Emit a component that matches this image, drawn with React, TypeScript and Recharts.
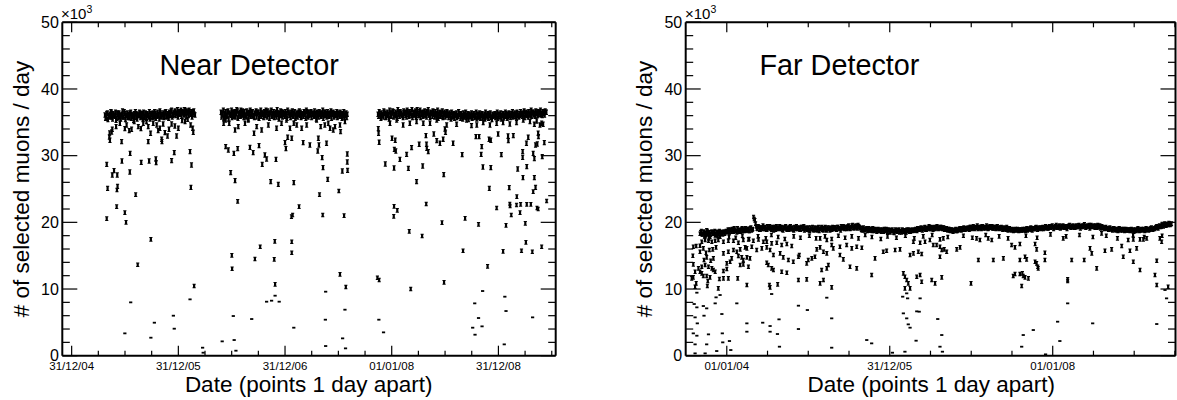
import React from 'react';
import { ScatterChart, Scatter, XAxis, YAxis } from 'recharts';

const FONT = '"Liberation Sans", Arial, Helvetica, sans-serif';

// ---------- Near detector (x = days since 31/12/04, values in 10^3 muons/day) ----------
const nearXDomain: [number, number] = [-32, 1656];
const nearMajorTicks = [0, 365, 730, 1095, 1460];
const nearTickLabels = ['31/12/04', '31/12/05', '31/12/06', '01/01/08', '31/12/08'];
const nearMinorTicks = [91.25, 182.5, 273.75, 456.25, 547.5, 638.75, 821.25, 912.5, 1003.75, 1186.25, 1277.5, 1368.75, 1551.25, 1642.5];

const NEAR_STEP = 4;
const nearBand1Start = 114;
const nearBand1 = [
  36.1, 35.7, 36.4, 35.9, 36.2, 36.6, 35.8, 36.3, 36.0, 36.5, 35.6, 36.2, 36.4, 35.9, 36.1, 36.7, 35.8, 36.3, 36.0, 36.4,
  36.2, 35.7, 36.5, 36.1, 35.9, 36.3, 36.6, 35.8, 36.2, 36.0, 36.4, 35.9, 36.3, 36.5, 35.7, 36.1, 36.3, 36.0, 36.6, 35.9,
  36.2, 36.4, 35.8, 36.3, 36.1, 36.5, 36.0, 36.7, 35.9, 36.2, 36.4, 36.1, 36.6, 35.8, 36.3, 36.5, 36.2, 36.8, 36.0, 36.4,
  36.7, 36.3, 36.9, 36.5, 36.2, 36.8, 36.6, 36.4, 36.9, 36.3, 36.7, 36.5, 36.8, 36.2, 36.6, 36.4, 36.7, 36.1,
];
const nearBand1bStart = 116;
const nearBand1b = [
  35.6, 36.3, 35.4, 36.0, 35.8, 36.5, 35.5, 36.1, 35.9, 35.3, 36.4, 35.7, 36.0, 35.5, 36.2, 35.8, 36.6, 35.4, 36.0, 35.7,
  35.9, 36.4, 35.6, 36.1, 35.3, 35.8, 36.3, 35.5, 36.0, 36.5, 35.7, 36.2, 35.4, 35.9, 36.4, 35.6, 36.1, 35.8, 35.5, 36.3,
  35.7, 36.0, 36.6, 35.6, 35.9, 36.2, 35.5, 36.4, 35.8, 36.1, 35.7, 36.5, 35.9, 36.3, 35.6, 36.0, 36.7, 35.8, 36.2, 36.5,
  36.0, 36.4, 35.8, 36.6, 36.2, 35.9, 36.5, 36.1, 36.8, 35.9, 36.4, 36.0, 36.6, 36.3, 35.8, 36.5, 36.2,
];
const nearBand2Start = 511;
const nearBand2 = [
  36.5, 36.1, 36.8, 36.3, 36.6, 36.0, 36.7, 36.4, 36.2, 36.8, 36.5, 35.9, 36.6, 36.3, 36.7, 36.1, 36.5, 36.8, 36.2, 36.4,
  36.6, 36.0, 36.7, 36.3, 36.5, 36.8, 36.2, 36.6, 35.9, 36.4, 36.7, 36.3, 36.5, 36.1, 36.8, 36.4, 36.2, 36.6, 36.0, 36.5,
  36.7, 36.3, 36.4, 36.8, 36.1, 36.6, 36.3, 36.5, 36.9, 36.2, 36.4, 36.7, 36.0, 36.5, 36.3, 36.6, 36.2, 36.8, 36.4, 36.1,
  36.5, 36.7, 36.3, 36.6, 35.9, 36.4, 36.2, 36.7, 36.5, 36.1, 36.3, 36.6, 36.4, 36.8, 36.0, 36.5, 36.2, 36.6, 36.3, 36.4,
  36.7, 36.1, 36.5, 36.3, 36.6, 36.2, 36.4, 36.8, 36.0, 36.5, 36.3, 36.6, 36.1, 36.4, 36.7, 36.2, 36.5, 36.3, 36.0, 36.6,
  36.4, 36.2, 36.5, 36.1, 36.3, 36.6, 36.0, 36.4, 36.2,
];
const nearBand2bStart = 513;
const nearBand2b = [
  35.8, 36.4, 35.6, 36.1, 35.9, 36.6, 35.5, 36.2, 36.0, 35.7, 36.5, 36.2, 35.8, 36.9, 35.6, 36.3, 35.9, 36.0, 36.7, 35.7,
  36.1, 35.8, 36.4, 35.5, 36.2, 35.9, 36.6, 36.0, 35.7, 36.3, 35.8, 36.5, 35.6, 36.2, 35.9, 36.4, 35.7, 36.0, 36.8, 35.8,
  36.2, 35.6, 36.5, 35.9, 36.3, 35.7, 36.1, 35.8, 36.4, 35.5, 36.0, 36.6, 35.8, 36.2, 35.9, 36.3, 35.6, 36.5, 36.0, 35.7,
  36.2, 35.9, 36.4, 35.6, 36.1, 35.8, 36.5, 36.0, 35.7, 36.3, 35.9, 36.2, 35.6, 36.6, 35.8, 36.0, 36.4, 35.7, 36.2, 35.9,
  36.3, 35.5, 36.1, 35.8, 36.4, 35.9, 36.2, 35.6, 36.5, 36.0, 35.8, 36.3, 35.9, 36.1, 35.6, 36.4, 35.8, 36.0, 36.2, 35.7,
  36.1, 35.9, 36.3, 35.6, 36.0, 35.8, 36.2, 35.7,
];
const nearBand3Start = 1048;
const nearBand3 = [
  36.2, 36.6, 35.9, 36.4, 36.1, 36.7, 36.3, 35.8, 36.5, 36.2, 36.8, 36.0, 36.4, 36.6, 36.1, 36.5, 36.3, 36.9, 36.2, 36.6,
  36.4, 36.0, 36.7, 36.3, 36.5, 36.8, 36.2, 36.6, 36.4, 36.9, 36.1, 36.5, 36.7, 36.3, 36.6, 36.0, 36.8, 36.4, 36.5, 36.2,
  36.7, 36.3, 36.6, 36.9, 36.1, 36.5, 36.4, 36.7, 36.2, 36.6, 36.3, 36.8, 36.0, 36.5, 36.4, 36.7, 36.2, 36.5, 36.3, 36.6,
  36.1, 36.4, 36.2, 36.5, 35.9, 36.3, 36.1, 36.4, 36.0, 36.6, 36.2, 36.3, 35.8, 36.4, 36.1, 36.5, 36.0, 36.3, 36.2, 35.9,
  36.4, 36.1, 36.3, 36.0, 36.5, 35.8, 36.2, 36.4, 36.1, 36.3, 35.9, 36.2, 36.5, 36.0, 36.3, 36.1, 36.4, 35.8, 36.2, 36.0,
  36.3, 36.1, 36.5, 35.9, 36.2, 36.4, 36.0, 36.3, 36.1, 36.5, 35.9, 36.2, 36.4, 36.0, 36.3, 36.6, 36.1, 36.4, 36.2, 36.5,
  36.0, 36.3, 36.6, 36.2, 36.4, 36.7, 36.1, 36.5, 36.3, 36.6, 36.2, 36.8, 36.4, 36.5, 36.3, 36.7, 36.4, 36.6, 36.5, 36.8,
  36.3, 36.6, 36.4, 36.7, 36.5,
];
const nearBand3bStart = 1050;
const nearBand3b = [
  35.9, 36.3, 35.6, 36.1, 35.8, 36.5, 35.7, 36.2, 36.0, 35.5, 36.4, 35.9, 36.7, 35.8, 36.2, 36.0, 35.6, 36.4, 35.9, 36.3,
  36.1, 35.7, 36.5, 36.0, 35.8, 36.6, 35.9, 36.3, 36.0, 35.7, 36.4, 36.1, 35.8, 36.9, 36.0, 36.3, 35.7, 36.2, 35.9, 36.5,
  36.0, 35.8, 36.4, 36.1, 35.7, 36.3, 35.9, 36.6, 35.8, 36.2, 36.0, 35.6, 36.4, 35.9, 36.1, 35.7, 36.3, 35.8, 36.0, 36.2,
  35.7, 36.0, 35.5, 36.2, 35.8, 35.6, 36.1, 35.7, 35.9, 36.3, 35.6, 36.0, 35.5, 35.8, 36.2, 35.7, 35.9, 35.4, 36.1, 35.8,
  35.6, 36.0, 35.7, 35.9, 35.5, 36.2, 35.8, 35.6, 36.0, 35.7, 35.9, 35.5, 36.1, 35.8, 35.6, 36.0, 35.7, 35.4, 35.9, 36.1,
  35.7, 35.9, 35.6, 36.2, 35.8, 35.5, 36.0, 35.7, 35.9, 36.3, 35.6, 35.8, 36.1, 35.7, 36.0, 35.8, 36.2, 35.9, 35.7, 36.1,
  35.8, 36.0, 36.3, 35.9, 36.1, 35.7, 36.4, 36.0, 35.8, 36.2, 36.0, 35.9, 36.5, 36.1, 35.9, 36.3, 36.0, 36.2, 36.4, 36.1,
  36.0, 36.3, 36.1, 36.5,
];

const nearOutliers: [number, number][] = [
  [130, 33.4], [129, 32.8], [131, 32.3], [171, 32.1], [120, 28.7], [145, 27.75], [139, 27.1], [156, 27.1], [123, 25.1],
  [157, 25.4], [155, 24.85], [154, 22.35], [120, 20.55], [182, 21.45], [186, 20.0], [200, 30.35], [172, 29.2], [199, 27.55],
  [219, 24.15], [202, 8.0], [182, 3.35], [226, 13.65], [238, 29.0], [265, 29.2], [288, 29.5], [289, 28.95], [271, 17.45],
  [283, 4.95], [271, 2.7], [262, 32.1], [308, 32.45], [309, 32.1], [328, 32.95], [351, 30.45], [342, 29.25], [359, 32.95],
  [348, 6.0], [351, 4.05], [405, 30.6], [410, 28.6], [408, 25.25], [419, 10.45], [405, 8.45], [416, 33.5], [448, 1.2], [450, 0.45],
  [137, 33.55], [139, 33.95], [152, 34.35], [165, 34.85], [182, 34.05], [188, 34.6], [197, 33.75], [205, 33.95], [214, 35.1],
  [228, 34.35], [237, 34.05], [245, 34.85], [256, 35.1], [262, 34.35], [270, 33.35], [279, 34.85], [291, 34.6], [296, 33.75],
  [302, 34.1], [313, 34.75], [319, 33.45], [333, 33.95], [342, 34.75], [353, 34.45], [365, 34.1], [378, 35.25], [388, 35.1],
  [397, 35.45], [407, 34.6], [414, 34.1],
  [527, 31.35], [536, 30.85], [555, 30.35], [568, 31.05], [544, 27.45], [559, 26.25], [568, 23.15], [548, 15.05], [549, 13.05],
  [553, 5.95], [556, 2.35], [562, 0.75], [515, 2.15], [610, 31.25], [621, 30.45], [641, 31.5], [652, 28.7], [661, 30.1],
  [667, 29.5], [699, 29.45], [681, 26.1], [707, 25.7], [760, 25.95], [645, 16.35], [627, 14.5], [695, 17.15], [693, 14.45],
  [696, 10.7], [696, 9.0], [667, 8.1], [684, 8.25], [710, 8.1], [616, 5.5], [752, 20.85], [756, 21.1], [753, 17.1], [753, 15.45],
  [760, 4.2], [730, 31.95], [733, 31.05], [739, 32.75], [753, 32.6], [778, 22.35], [792, 31.95], [815, 31.6], [844, 32.6],
  [846, 31.6], [842, 30.7], [857, 29.7], [860, 28.2], [872, 31.85], [876, 26.45], [848, 24.15], [859, 21.1], [914, 24.7],
  [918, 12.2], [869, 9.6], [868, 5.4], [869, 1.45], [938, 10.3], [935, 6.9], [927, 2.6], [937, 1.1], [932, 21.0], [926, 27.7],
  [944, 27.8], [943, 30.25], [943, 29.05], [920, 33.6], [895, 33.85], [878, 34.85],
  [520, 34.85], [527, 35.35], [539, 34.85], [559, 33.85], [570, 34.35], [593, 34.85], [604, 35.35], [624, 33.35], [633, 34.35],
  [650, 33.85], [673, 34.6], [701, 34.1], [718, 34.85], [735, 35.35], [747, 34.1], [760, 34.85], [770, 34.6], [787, 34.1],
  [804, 34.6], [838, 35.35], [852, 34.35], [866, 34.6], [884, 34.1], [901, 34.35], [918, 34.6], [935, 35.1],
  [1049, 34.05], [1050, 33.35], [1052, 32.0], [1046, 11.7], [1052, 11.35], [1051, 5.4], [1067, 3.5], [1073, 28.75], [1103, 28.15],
  [1104, 30.95], [1109, 30.7], [1096, 32.6], [1107, 32.3], [1103, 22.4], [1114, 21.8], [1102, 20.9], [1123, 29.45], [1146, 30.2],
  [1152, 28.1], [1155, 18.65], [1160, 10.0], [1163, 31.2], [1180, 26.1], [1189, 31.7], [1199, 17.95], [1201, 28.45], [1212, 33.0],
  [1214, 31.7], [1215, 31.1], [1220, 30.6], [1213, 22.75], [1239, 33.25], [1249, 32.25], [1260, 31.85], [1271, 32.45], [1277, 34.0],
  [1279, 33.5], [1267, 19.95], [1273, 27.15], [1274, 11.0], [1305, 31.85], [1317, 34.7], [1336, 30.15], [1339, 15.75], [1346, 20.6],
  [1379, 7.85], [1392, 19.7], [1392, 5.65], [1372, 4.2], [1380, 3.15], [1404, 4.4], [1406, 9.7], [1368, 34.5], [1383, 32.85],
  [1394, 32.85], [1403, 31.35], [1401, 30.2], [1407, 28.3], [1434, 28.2], [1423, 13.4], [1429, 25.1], [1428, 32.45], [1434, 32.3],
  [1459, 33.25], [1470, 30.15], [1476, 15.65], [1482, 8.85], [1486, 6.7], [1480, 1.7], [1454, 22.15], [1486, 19.55], [1494, 32.25],
  [1493, 32.95], [1497, 25.2], [1499, 22.75], [1500, 22.45], [1504, 21.1], [1511, 33.0], [1522, 22.6], [1526, 28.0], [1523, 23.85],
  [1534, 21.45], [1536, 22.7], [1543, 30.6], [1543, 29.75], [1544, 26.7], [1539, 15.75], [1552, 19.85], [1554, 17.0], [1557, 28.35],
  [1556, 31.85], [1562, 32.75], [1557, 22.7], [1571, 22.7], [1576, 15.6], [1577, 5.75], [1579, 30.35], [1583, 29.55], [1583, 26.7],
  [1587, 25.25], [1579, 24.6], [1587, 31.6], [1593, 31.75], [1592, 22.15], [1596, 22.0], [1608, 16.35], [1610, 29.85], [1617, 31.95],
  [1625, 23.2], [1596, 33.35], [1597, 32.85], [1602, 34.6], [1608, 34.85], [1613, 34.7], [1568, 35.1], [1583, 34.7], [1591, 35.2],
  [1089, 34.85], [1112, 35.35], [1134, 34.6], [1157, 34.85], [1180, 35.1], [1203, 34.85], [1226, 34.85], [1249, 35.35], [1283, 34.6],
  [1351, 35.35], [1386, 34.6], [1408, 34.95], [1431, 34.6], [1454, 34.85], [1476, 34.95], [1499, 34.75], [1522, 34.95], [1545, 35.35],
];

// ---------- Far detector (x = days since 01/01/04) ----------
const farXDomain: [number, number] = [-184, 2010];
const farMajorTicks = [0, 730, 1460];
const farTickLabels = ['01/01/04', '31/12/05', '01/01/08'];
const farMinorTicks = [182.5, 365, 547.5, 912.5, 1095, 1277.5, 1642.5, 1825, 2007.5];

const FAR_STEP = 6;
const farBandStart = -120;
const farBand = [
  18.3, 18.7, 18.2, 18.6, 18.4, 18.8, 18.3, 18.5, 18.1, 18.6, 18.4, 18.7, 18.2, 18.5, 18.3, 18.6, 18.4, 18.2, 18.6, 18.5,
  18.6, 18.9, 18.5, 18.8, 19.0, 18.6, 18.9, 18.7, 19.1, 18.6, 18.8, 19.0, 18.7, 18.9, 19.1, 18.8, 19.0, 18.7, 19.2, 18.9,
  20.8, 20.3, 19.4, 19.0, 19.3, 18.9, 19.2, 19.5, 19.0, 19.3, 18.9, 19.2, 19.4, 19.0, 19.3, 18.8, 19.1, 19.4, 19.0, 19.2,
  19.0, 19.3, 18.8, 19.2, 19.4, 18.9, 19.1, 19.3, 19.0, 19.2, 18.8, 19.1, 19.4, 19.0, 19.2, 18.9, 19.3, 19.1, 18.8, 19.2,
  18.9, 19.2, 18.7, 19.0, 19.3, 18.8, 19.1, 18.9, 19.2, 18.7, 19.0, 19.3, 18.8, 19.1, 18.9, 19.2, 19.0, 18.8, 19.1, 19.3,
  19.0, 19.2, 18.9, 19.3, 19.1, 18.8, 19.2, 19.4, 19.0, 19.3, 19.1, 19.5, 19.0, 19.3, 19.6, 19.1, 19.4, 19.2, 19.6, 19.3,
  19.1, 18.8, 19.2, 18.9, 19.0, 18.7, 19.1, 18.8, 18.9, 19.1, 18.7, 18.9, 18.6, 19.0, 18.8, 18.7, 18.9, 18.6, 18.8, 19.0,
  18.6, 18.9, 18.5, 18.8, 18.7, 18.4, 18.9, 18.6, 18.8, 18.5, 18.7, 18.9, 18.6, 18.8, 18.5, 18.7, 18.9, 18.6, 18.8, 18.7,
  18.8, 19.0, 18.7, 19.1, 18.9, 19.2, 18.8, 19.0, 19.3, 18.9, 19.1, 19.4, 19.0, 19.2, 18.9, 19.3, 19.1, 19.4, 19.0, 19.2,
  19.3, 19.0, 19.2, 18.9, 19.1, 18.8, 19.0, 18.7, 18.9, 18.6, 18.8, 19.0, 18.7, 18.9, 19.1, 18.8, 19.0, 19.2, 18.9, 19.1,
  19.2, 18.9, 19.3, 19.1, 19.4, 19.0, 19.2, 19.5, 19.1, 19.3, 19.0, 19.4, 19.2, 19.1, 19.5, 19.0, 19.3, 19.2, 19.4, 19.1,
  19.3, 19.0, 19.4, 19.2, 19.1, 19.3, 18.9, 19.2, 19.0, 19.3, 18.8, 19.1, 18.9, 19.0, 18.7, 18.9, 18.8, 19.0, 18.7, 18.9,
  18.8, 19.0, 18.9, 18.7, 19.1, 18.9, 19.0, 19.2, 18.8, 19.1, 19.0, 19.3, 18.9, 19.2, 19.1, 19.0, 19.3, 19.1, 19.4, 19.2,
  19.1, 19.4, 19.2, 19.5, 19.0, 19.3, 19.6, 19.2, 19.4, 19.1, 19.3, 19.5, 19.2, 19.4, 19.0, 19.3, 19.6, 19.2, 19.4, 19.3,
  19.2, 19.5, 19.3, 19.6, 19.1, 19.4, 19.3, 19.7, 19.2, 19.5, 19.4, 19.1, 19.6, 19.3, 19.5, 19.2, 19.4, 19.6, 19.3, 19.1,
  19.4, 19.2, 19.0, 19.3, 19.1, 18.9, 19.2, 19.0, 18.8, 19.1, 18.9, 19.0, 18.7, 19.1, 18.8, 19.0, 18.9, 18.7, 19.0, 18.8,
  18.9, 18.7, 19.0, 18.8, 18.6, 18.9, 18.8, 19.1, 18.7, 18.9, 18.8, 19.0, 18.7, 19.1, 18.9, 18.8, 19.0, 19.2, 18.9, 19.1,
  19.2, 19.4, 19.1, 19.5, 19.3, 19.6, 19.4, 19.8, 19.5, 19.7, 19.9, 19.6, 19.8,
];
const farBandBStart = -117;
const farBandB = [
  18.5, 18.2, 18.6, 18.4, 18.1, 18.7, 18.4, 18.2, 18.6, 18.3, 18.5, 18.1, 18.6, 18.4, 18.7, 18.3, 18.5, 18.6, 18.3, 18.7,
  18.7, 18.5, 18.9, 18.6, 18.8, 19.1, 18.7, 18.5, 18.9, 18.8, 18.6, 19.1, 18.9, 18.7, 18.8, 19.0, 18.7, 19.1, 18.8, 19.0,
  20.5, 19.8, 19.1, 19.4, 18.9, 19.2, 19.0, 19.3, 19.1, 18.9, 19.4, 19.1, 19.2, 18.9, 19.1, 19.3, 18.9, 19.2, 19.1, 19.4,
  19.2, 18.9, 19.1, 19.3, 19.0, 19.2, 18.9, 19.4, 19.1, 18.9, 19.3, 19.0, 19.2, 19.1, 18.9, 19.3, 19.0, 19.4, 19.1, 19.0,
  19.1, 18.8, 19.2, 19.0, 18.9, 19.2, 19.1, 18.8, 19.3, 19.0, 19.2, 18.9, 19.1, 19.3, 18.8, 19.0, 19.2, 19.1, 18.9, 19.2,
  19.2, 19.0, 19.3, 19.1, 19.0, 19.4, 19.1, 19.2, 19.3, 19.0, 19.4, 19.2, 19.1, 19.5, 19.2, 19.3, 19.5, 19.1, 19.4, 19.2,
  18.9, 19.1, 18.8, 19.0, 19.1, 18.9, 18.8, 19.0, 18.7, 18.9, 19.0, 18.8, 18.9, 18.7, 18.9, 18.6, 18.8, 19.0, 18.7, 18.9,
  18.8, 18.6, 18.7, 18.9, 18.5, 18.7, 18.8, 18.6, 18.9, 18.7, 18.5, 18.8, 18.7, 18.6, 18.9, 18.8, 18.6, 18.7, 18.9, 18.8,
  18.9, 18.8, 19.1, 18.9, 19.0, 19.1, 19.0, 19.2, 18.9, 19.1, 19.2, 19.0, 19.3, 19.1, 19.2, 19.0, 19.3, 19.2, 19.1, 19.3,
  19.1, 19.2, 18.9, 19.0, 18.9, 19.0, 18.8, 18.9, 18.7, 18.8, 18.9, 18.7, 18.8, 19.0, 18.9, 19.1, 18.9, 19.0, 19.1, 19.0,
  19.1, 19.3, 19.0, 19.2, 19.1, 19.3, 19.2, 19.0, 19.3, 19.2, 19.4, 19.1, 19.3, 19.2, 19.3, 19.1, 19.4, 19.2, 19.1, 19.3,
  19.1, 19.3, 19.1, 19.0, 19.2, 19.1, 19.0, 19.1, 18.9, 19.1, 19.0, 18.9, 18.8, 18.9, 18.8, 19.0, 18.9, 18.8, 18.9, 18.8,
  18.9, 18.8, 19.0, 18.9, 18.8, 19.0, 19.1, 18.9, 19.0, 19.0, 19.2, 19.1, 19.0, 19.1, 19.2, 19.2, 19.0, 19.2, 19.3, 19.1,
  19.3, 19.2, 19.4, 19.3, 19.2, 19.4, 19.3, 19.3, 19.5, 19.2, 19.4, 19.3, 19.3, 19.2, 19.4, 19.5, 19.3, 19.3, 19.5, 19.2,
  19.4, 19.3, 19.5, 19.4, 19.3, 19.5, 19.5, 19.4, 19.3, 19.4, 19.6, 19.3, 19.4, 19.4, 19.3, 19.5, 19.2, 19.4, 19.5, 19.2,
  19.3, 19.1, 19.2, 19.1, 19.0, 19.1, 19.0, 18.9, 19.1, 19.0, 18.8, 18.9, 19.0, 18.9, 18.9, 18.8, 19.0, 18.9, 18.8, 18.9,
  18.8, 18.9, 18.8, 18.9, 18.8, 18.7, 19.0, 18.9, 18.8, 19.0, 18.9, 18.9, 18.8, 19.0, 19.0, 18.9, 19.1, 19.0, 19.0, 19.0,
  19.3, 19.2, 19.3, 19.4, 19.4, 19.5, 19.6, 19.6, 19.7, 19.6, 19.8, 19.7,
];

const farOutliers: [number, number][] = [
  [-100, 17.9], [-80, 17.6], [-40, 18.0], [10, 17.8], [40, 17.7], [70, 18.0], [100, 17.5], [140, 17.9], [175, 17.6], [200, 18.1],
  [230, 17.8], [260, 17.5], [300, 17.9], [330, 17.7], [370, 18.0], [400, 17.6], [440, 17.9], [470, 17.5], [500, 18.0], [530, 17.7],
  [560, 17.9], [590, 17.6], [620, 18.1], [650, 17.8], [690, 17.5], [720, 17.9], [760, 17.7], [800, 18.0], [840, 17.6], [880, 17.9],
  [920, 18.1], [990, 17.8], [1060, 18.0], [1100, 17.7], [1160, 18.1], [1220, 17.9], [1260, 17.6], [1340, 18.0], [1390, 17.7],
  [1450, 18.2], [1520, 17.9], [1580, 18.1], [1640, 17.8], [1700, 18.0], [1750, 17.6], [1820, 18.1], [1870, 17.8], [1950, 18.0],
  [-150, 16.35], [-137, 16.45], [-120, 16.5], [-152, 15.0], [-150, 13.7], [-127, 13.1], [-142, 12.6], [-150, 11.75], [-157, 11.6],
  [-137, 10.85], [-142, 10.35], [-134, 9.45], [-146, 7.75], [-134, 7.25], [-142, 5.75], [-132, 4.85], [-150, 3.35], [-134, 3.0],
  [-142, 1.7], [-142, 0.35], [-120, 12.6], [-112, 12.35], [-105, 11.95], [-90, 11.95], [-75, 11.75], [-112, 13.35], [-97, 13.6],
  [-82, 13.35], [-67, 13.1], [-60, 12.85], [-52, 12.6], [-102, 14.35], [-90, 14.75], [-72, 14.25], [-60, 14.6], [-120, 15.6],
  [-105, 16.1], [-93, 15.45], [-78, 15.85], [-63, 15.95], [-48, 16.25], [-112, 17.1], [-97, 17.35], [-82, 17.25], [-67, 17.1],
  [-52, 17.25], [-38, 17.35], [-97, 18.0], [-75, 17.85], [-52, 18.05], [-30, 17.85], [-85, 11.2], [-87, 10.45], [-48, 8.75],
  [-30, 9.1], [-52, 7.85], [-105, 7.45], [-102, 6.0], [-22, 6.25], [-90, 1.7], [-82, 3.2], [-45, 0.7], [-20, 3.35], [-18, 2.0],
  [12, 2.2], [18, 0.85], [-90, 7.1], [-97, 0.35], [-38, 10.1], [-33, 11.5], [-15, 11.6], [7, 11.6], [-15, 12.7], [0, 13.0],
  [0, 13.85], [15, 14.1], [22, 14.6], [-15, 15.35], [7, 15.6], [30, 15.85], [45, 15.6], [60, 15.95], [82, 16.25], [52, 14.95],
  [67, 14.75], [74, 14.35], [90, 14.75], [97, 13.35], [104, 14.6], [60, 13.6], [74, 13.7], [-15, 17.1], [7, 17.25], [30, 17.25],
  [52, 16.95], [74, 17.35], [97, 17.45], [119, 17.25], [142, 17.45], [164, 17.1], [90, 16.1], [112, 16.35], [134, 15.85],
  [157, 16.1], [179, 16.25], [194, 15.85], [90, 10.6], [90, 4.85], [90, 3.6], [49, 11.6], [45, 7.85], [161, 4.95], [194, 4.45],
  [194, 3.6], [227, 3.25], [234, 5.45], [236, 1.35], [179, 13.95], [186, 13.6], [201, 13.1], [209, 12.85], [191, 10.6],
  [194, 10.25], [201, 9.25], [228, 10.7], [246, 12.6], [269, 12.45], [209, 15.1], [239, 15.35], [253, 14.75], [179, 17.1],
  [201, 16.85], [224, 16.95], [246, 16.6], [269, 16.75], [291, 16.45], [276, 14.35], [298, 14.1], [321, 11.35], [321, 14.85],
  [325, 15.1], [321, 7.5], [321, 4.0], [358, 11.45], [361, 6.85], [358, 13.85], [365, 14.35], [381, 14.6], [395, 14.85],
  [403, 15.95], [418, 16.25], [433, 15.6], [448, 15.35], [418, 17.6], [448, 17.35], [470, 16.6], [477, 16.1], [418, 10.85],
  [433, 11.35], [448, 13.1], [425, 12.85], [455, 13.6], [448, 8.7], [470, 10.25], [470, 5.6], [470, 1.2], [507, 15.1],
  [522, 14.45], [552, 13.35], [582, 13.1], [605, 16.2], [507, 16.35], [537, 16.6], [560, 16.1], [582, 16.35], [627, 2.35],
  [649, 1.85], [649, 12.1], [664, 14.6], [701, 15.6], [716, 15.75], [754, 15.85], [776, 15.95], [821, 15.1], [836, 15.35],
  [858, 15.6], [873, 15.25], [791, 12.35], [798, 11.85], [806, 11.35], [813, 10.85], [821, 10.1], [798, 10.1], [806, 9.35],
  [810, 8.6], [788, 8.85], [791, 6.35], [806, 5.6], [813, 4.7], [821, 4.2], [851, 6.65], [862, 6.6], [848, 2.25], [798, 0.6],
  [851, 11.85], [866, 12.1], [866, 8.6], [873, 11.1], [836, 17.1], [866, 16.95], [888, 17.1], [742, 0.45],
  [910, 17.35], [918, 11.35], [933, 10.85], [925, 16.6], [940, 16.6], [955, 16.35], [963, 15.85], [974, 15.95], [985, 15.6],
  [955, 14.85], [963, 11.75], [955, 17.45], [970, 17.6], [945, 5.5], [963, 3.1], [955, 1.35], [966, 0.6], [1030, 15.95],
  [1045, 16.25], [1094, 10.85], [1127, 14.35], [1119, 17.6], [1134, 17.35], [1171, 17.6], [1187, 17.35], [1194, 14.35],
  [1239, 14.6], [1276, 16.6], [1291, 16.25], [1313, 14.35], [1313, 16.75], [1321, 10.45], [1283, 11.95], [1291, 12.25],
  [1313, 12.25], [1324, 12.35], [1328, 11.95], [1351, 11.6], [1336, 11.75], [1336, 14.85], [1343, 14.45], [1381, 16.75],
  [1388, 15.95], [1381, 14.1], [1388, 13.85], [1393, 13.35], [1395, 13.1], [1425, 15.45], [1425, 14.35], [1328, 3.1],
  [1373, 3.85], [1321, 1.35], [1428, 0.2], [1482, 5.1], [1492, 2.2], [1507, 17.6], [1527, 11.45], [1527, 11.2], [1527, 7.85],
  [1545, 14.35], [1601, 14.35], [1627, 16.1], [1635, 15.35], [1657, 13.1], [1639, 4.85], [1694, 15.75], [1679, 18.35],
  [1724, 15.95], [1769, 16.45], [1776, 14.85], [1798, 17.35], [1806, 15.75], [1821, 17.45], [1836, 16.1], [1821, 14.1],
  [1851, 12.85], [1851, 17.45], [1866, 17.45], [1881, 17.6], [1918, 12.1], [1926, 10.6], [1926, 14.25], [1926, 4.75],
  [1940, 17.6], [1948, 17.1], [1963, 9.85], [1970, 8.6], [1977, 10.35],
];

// ---------- shared y axis ----------
const yDomain: [number, number] = [0, 50];
const yMajorTicks = [0, 10, 20, 30, 40, 50];
const yMinorTicks = [2, 4, 6, 8, 12, 14, 16, 18, 22, 24, 26, 28, 32, 34, 36, 38, 42, 44, 46, 48];

type Pt = { x: number; v: number };
const bandPoints = (start: number, step: number, vals: number[]): Pt[] => vals.map((v, i) => ({ x: start + i * step, v }));
const pairPoints = (arr: [number, number][]): Pt[] => arr.map(([x, v]) => ({ x, v }));

const nearData: Pt[] = [
  ...bandPoints(nearBand1Start, NEAR_STEP, nearBand1),
  ...bandPoints(nearBand1bStart, NEAR_STEP, nearBand1b),
  ...bandPoints(nearBand2Start, NEAR_STEP, nearBand2),
  ...bandPoints(nearBand2bStart, NEAR_STEP, nearBand2b),
  ...bandPoints(nearBand3Start, NEAR_STEP, nearBand3),
  ...bandPoints(nearBand3bStart, NEAR_STEP, nearBand3b),
  ...pairPoints(nearOutliers),
];
const farData: Pt[] = [
  ...bandPoints(farBandStart, FAR_STEP, farBand),
  ...bandPoints(farBandBStart, FAR_STEP, farBandB),
  ...pairPoints(farOutliers),
];

const H = 400;
const PLOT_TOP = 22.3;
const PLOT_BOTTOM = 355.7;
const AXIS_LINE = { stroke: '#000', strokeWidth: 2 };

function Mark(props: any) {
  const { cx, cy, payload } = props;
  if (cx == null || cy == null || !payload) return null;
  const v = payload.v;
  if (v < 10) {
    return <rect x={cx - 1.6} y={cy - 0.9} width={3.2} height={1.8} fill="#000" />;
  }
  const h = v > 25 ? 2.2 : 1.8;
  // error-bar "I": top cap, bottom cap, filled centre
  const d =
    `M${cx - 1.6} ${cy - h - 0.5}h3.2v1h-3.2z` +
    `M${cx - 1.6} ${cy + h - 0.5}h3.2v1h-3.2z` +
    `M${cx - 1.1} ${cy - h}h2.2v${2 * h}h-2.2z`;
  return <path d={d} fill="#000" />;
}

type PanelProps = {
  left: number;
  width: number;
  plotLeft: number;
  plotRight: number;
  xDomain: [number, number];
  xMajors: number[];
  xMinors: number[];
  xLabels: string[];
  data: Pt[];
};

function Panel(p: PanelProps) {
  const xTicks = [...p.xMajors, ...p.xMinors].sort((a, b) => a - b);
  const yTicks = [...yMajorTicks, ...yMinorTicks].sort((a, b) => a - b);
  const margin = {
    top: PLOT_TOP - 1,
    bottom: H - PLOT_BOTTOM - 1,
    left: p.plotLeft - 1,
    right: p.width - p.plotRight - 1,
  };
  const bottomTick = (t: any) => {
    const val = t.payload.value;
    const idx = p.xMajors.indexOf(val);
    const major = idx >= 0;
    return (
      <g>
        <line x1={t.x} y1={t.y} x2={t.x} y2={t.y - (major ? 10 : 5)} stroke="#000" strokeWidth={1.2} />
        {major && (
          <text x={t.x} y={t.y + 13.8} textAnchor="middle" fontSize={11.5} fontFamily={FONT} fill="#000">
            {p.xLabels[idx]}
          </text>
        )}
      </g>
    );
  };
  const topTick = (t: any) => {
    const major = p.xMajors.indexOf(t.payload.value) >= 0;
    return <line x1={t.x} y1={t.y} x2={t.x} y2={t.y + (major ? 10 : 5)} stroke="#000" strokeWidth={1.2} />;
  };
  const leftTick = (t: any) => {
    const val = t.payload.value;
    const major = yMajorTicks.indexOf(val) >= 0;
    return (
      <g>
        <line x1={t.x} y1={t.y} x2={t.x + (major ? 15 : 7.5)} y2={t.y} stroke="#000" strokeWidth={1.2} />
        {major && (
          <text x={t.x - 3.5} y={t.y} dy="0.36em" textAnchor="end" fontSize={16} fontFamily={FONT} fill="#000">
            {String(val)}
          </text>
        )}
      </g>
    );
  };
  const rightTick = (t: any) => {
    const major = yMajorTicks.indexOf(t.payload.value) >= 0;
    return <line x1={t.x} y1={t.y} x2={t.x - (major ? 15 : 7.5)} y2={t.y} stroke="#000" strokeWidth={1.2} />;
  };
  return (
    <div style={{ position: 'absolute', left: p.left, top: 0, width: p.width, height: H }}>
      <ScatterChart width={p.width} height={H} margin={margin}>
        <XAxis
          xAxisId="b"
          orientation="bottom"
          type="number"
          dataKey="x"
          domain={p.xDomain}
          allowDataOverflow
          ticks={xTicks}
          interval={0}
          tickSize={0}
          tickMargin={0}
          height={1}
          axisLine={AXIS_LINE}
          tickLine={false}
          tick={bottomTick}
        />
        <XAxis
          xAxisId="t"
          orientation="top"
          type="number"
          dataKey="x"
          domain={p.xDomain}
          allowDataOverflow
          ticks={xTicks}
          interval={0}
          tickSize={0}
          tickMargin={0}
          height={1}
          axisLine={AXIS_LINE}
          tickLine={false}
          tick={topTick}
        />
        <YAxis
          yAxisId="l"
          orientation="left"
          type="number"
          dataKey="v"
          domain={yDomain}
          allowDataOverflow
          ticks={yTicks}
          interval={0}
          tickSize={0}
          tickMargin={0}
          width={1}
          axisLine={AXIS_LINE}
          tickLine={false}
          tick={leftTick}
        />
        <YAxis
          yAxisId="r"
          orientation="right"
          type="number"
          dataKey="v"
          domain={yDomain}
          allowDataOverflow
          ticks={yTicks}
          interval={0}
          tickSize={0}
          tickMargin={0}
          width={1}
          axisLine={AXIS_LINE}
          tickLine={false}
          tick={rightTick}
        />
        <Scatter xAxisId="b" yAxisId="l" data={p.data} dataKey="v" shape={Mark} isAnimationActive={false} />
      </ScatterChart>
    </div>
  );
}

export default function App() {
  const textStyle = { fontFamily: FONT, fill: '#000' } as const;
  return (
    <div style={{ position: 'absolute', left: 0, top: 0, width: 1177, height: H, background: '#fff', overflow: 'hidden' }}>
      <Panel
        left={0}
        width={590}
        plotLeft={62.3}
        plotRight={555.7}
        xDomain={nearXDomain}
        xMajors={nearMajorTicks}
        xMinors={nearMinorTicks}
        xLabels={nearTickLabels}
        data={nearData}
      />
      <Panel
        left={590}
        width={587}
        plotLeft={95.7}
        plotRight={585.5}
        xDomain={farXDomain}
        xMajors={farMajorTicks}
        xMinors={farMinorTicks}
        xLabels={farTickLabels}
        data={farData}
      />
      <svg width={1177} height={H} style={{ position: 'absolute', left: 0, top: 0, pointerEvents: 'none' }}>
        <text x={159.5} y={75} fontSize={28.8} {...textStyle}>Near Detector</text>
        <text x={759.4} y={74.5} fontSize={28.8} {...textStyle}>Far Detector</text>
        <text x={61} y={19} fontSize={15} {...textStyle}>
          ×10<tspan dy={-6.5} fontSize={10.5}>3</tspan>
        </text>
        <text x={685} y={19} fontSize={15} {...textStyle}>
          ×10<tspan dy={-6.5} fontSize={10.5}>3</tspan>
        </text>
        <text x={28.5} y={189} fontSize={22.5} textAnchor="middle" transform="rotate(-90 28.5 189)" {...textStyle}>
          # of selected muons / day
        </text>
        <text x={651.5} y={189} fontSize={22.5} textAnchor="middle" transform="rotate(-90 651.5 189)" {...textStyle}>
          # of selected muons / day
        </text>
        <text x={308.7} y={391.7} fontSize={22.5} textAnchor="middle" {...textStyle}>
          Date (points 1 day apart)
        </text>
        <text x={931.3} y={391.7} fontSize={22.5} textAnchor="middle" {...textStyle}>
          Date (points 1 day apart)
        </text>
      </svg>
    </div>
  );
}
